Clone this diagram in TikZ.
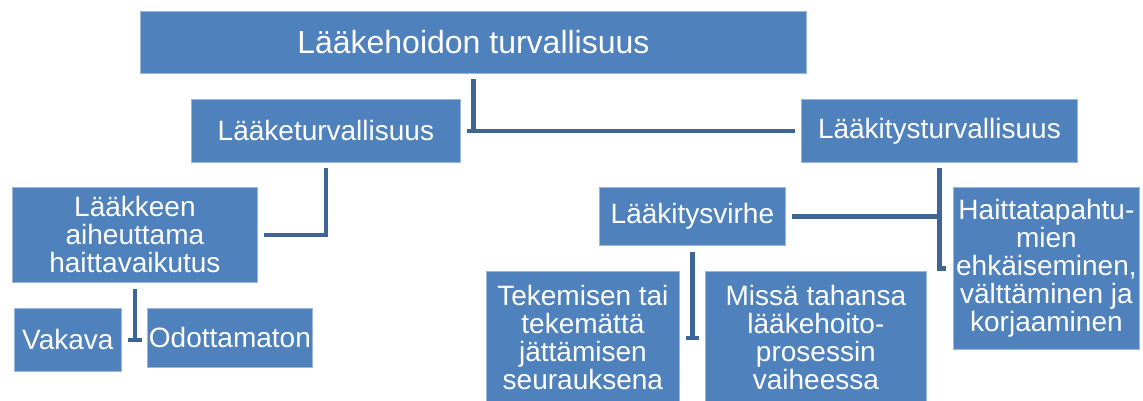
\documentclass[tikz,border=0pt]{standalone}
\usepackage{fontspec}
\setmainfont{Liberation Sans}
\usetikzlibrary{calc}
\definecolor{boxblue}{HTML}{4F81BD}
\definecolor{boxedge}{HTML}{9BB7DC}
\definecolor{linkblue}{HTML}{3E6595}
\begin{document}
\begin{tikzpicture}[x=1pt,y=-1pt,
  box/.style={fill=boxblue,draw=boxedge,line width=0.8pt,text=white,align=center,
    inner sep=0pt,font=\fontsize{28}{28}\selectfont,anchor=north west},
  conn/.style={draw=linkblue,line width=4.5pt}]
\useasboundingbox (0,0) rectangle (1143,400);
% boxes
\node[box,minimum width=666,minimum height=62,font=\fontsize{32}{34}\selectfont] (top) at (140,11) {Lääkehoidon turvallisuus};
\node[box,minimum width=269,minimum height=63] (ltv) at (191,99) {Lääketurvallisuus};
\node[box,minimum width=276,minimum height=63] (lktv) at (801,99) {Lääkitysturvallisuus};
\node[box,minimum width=245,minimum height=95] (lhv) at (12,187) {Lääkkeen\\aiheuttama\\haittavaikutus};
\node[box,minimum width=107,minimum height=63] (vak) at (14,308) {Vakava};
\node[box,minimum width=165,minimum height=59] (odo) at (147,308) {Odottamaton};
\node[box,minimum width=186,minimum height=58] (lvir) at (599,187) {Lääkitysvirhe};
\node[box,minimum width=186,minimum height=162] (hai) at (953,187) {Haittatapahtu-\\mien\\ehkäiseminen,\\välttäminen ja\\korjaaminen};
\node[box,minimum width=193,minimum height=133] (tek) at (486,271) {Tekemisen tai\\tekemättä\\jättämisen\\seurauksena};
\node[box,minimum width=221,minimum height=133] (mis) at (705,271) {Missä tahansa\\lääkehoito-\\prosessin\\vaiheessa};
% connectors
\draw[conn] ($(top.south)+(0,5)$) -- (top.south |- ltv.east);
\draw[conn] ($(ltv.east)+(6,0)$) -- ($(lktv.west)+(-6,0)$);
\draw[conn] ($(ltv.south)+(0,5)$) |- ($(lhv.east)+(6,0)$);
\draw[conn] ($(lhv.south)+(0,6)$) -- (lhv.south |- vak.east);
\draw[conn] ($(vak.east)+(6,0)$) -- ($(odo.west |- vak.east)+(-5,0)$);
\draw[conn] ($(lktv.south)+(0,5)$) |- ($(hai.west)+(-7,0)$);
\draw[conn] ($(lvir.east)+(6,0)$) -- (lktv.south |- lvir.east);
\draw[conn] ($(lvir.south)+(0,6)$) -- (lvir.south |- tek.east);
\draw[conn] ($(tek.east)+(6,0)$) -- ($(mis.west)+(-6,0)$);
\end{tikzpicture}
\end{document}
